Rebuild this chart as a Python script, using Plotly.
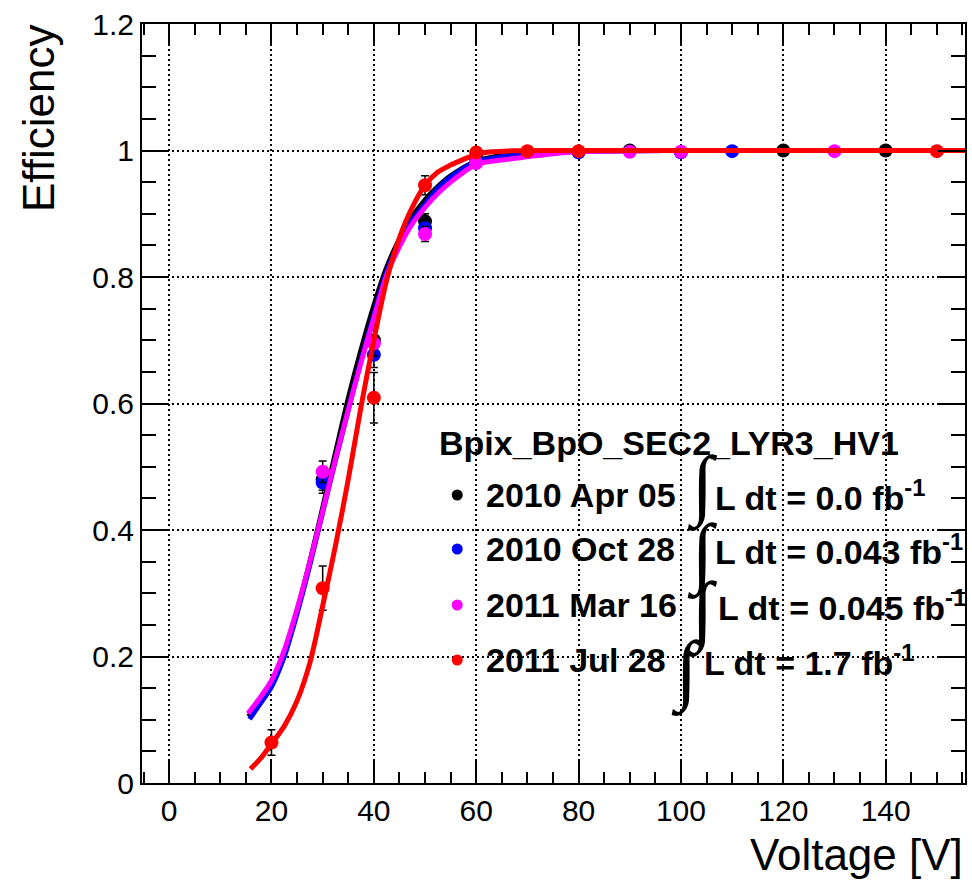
import plotly.graph_objects as go

# ---- measured points (voltage [V], efficiency, error) ----
blk_v = [30, 40, 50, 60, 90, 120, 140]
blk_e = [0.480, 0.700, 0.888, 0.990, 1.000, 1.000, 1.000]
blk_err = [0.017, 0.020, 0.012, 0.004, 0.002, 0.002, 0.002]

blu_v = [30, 40, 50, 60, 80, 100, 110]
blu_e = [0.475, 0.677, 0.877, 0.985, 0.997, 0.997, 0.999]
blu_err = [0.017, 0.020, 0.012, 0.004, 0.002, 0.002, 0.002]

mag_v = [30, 40, 50, 60, 90, 100, 130]
mag_e = [0.492, 0.695, 0.868, 0.980, 0.998, 0.998, 0.999]
mag_err = [0.017, 0.020, 0.012, 0.004, 0.002, 0.002, 0.002]

red_v = [20, 30, 40, 50, 60, 70, 80, 150]
red_e = [0.064, 0.308, 0.609, 0.945, 0.997, 0.999, 0.999, 0.999]
red_err = [0.020, 0.035, 0.040, 0.015, 0.004, 0.002, 0.002, 0.002]

# ---- fitted turn-on curves ----
blk_fit_v = [15.5, 17.5, 20, 22.5, 25, 27.5, 30, 32.5, 35, 37.5, 40, 42.5, 45, 47.5, 50,
             52.5, 55, 60, 65, 70, 80, 100, 130, 156]
blk_fit_e = [0.105, 0.127, 0.157, 0.205, 0.272, 0.350, 0.435, 0.522, 0.608, 0.685, 0.755,
             0.815, 0.860, 0.895, 0.922, 0.943, 0.960, 0.983, 0.992, 0.996, 0.999, 1.0, 1.0, 1.0]

blu_fit_v = [15.7, 17.5, 20, 22.5, 25, 27.5, 30, 32.5, 35, 37.5, 40, 42.5, 45, 47.5, 50,
             52.5, 55, 60, 65, 70, 75, 80, 100, 130, 156]
blu_fit_e = [0.101, 0.122, 0.152, 0.200, 0.268, 0.345, 0.428, 0.510, 0.590, 0.668, 0.740,
             0.808, 0.855, 0.890, 0.915, 0.940, 0.958, 0.982, 0.990, 0.994, 0.997, 0.999,
             1.0, 1.0, 1.0]

mag_fit_v = [15.4, 17.5, 20, 22.5, 25, 27.5, 30, 32.5, 35, 37.5, 40, 42.5, 45, 47.5, 50,
             52.5, 55, 60, 65, 70, 75, 80, 100, 130, 156]
mag_fit_e = [0.110, 0.132, 0.162, 0.210, 0.275, 0.350, 0.430, 0.512, 0.590, 0.665, 0.735,
             0.803, 0.848, 0.884, 0.910, 0.932, 0.950, 0.978, 0.985, 0.990, 0.995, 0.998,
             1.0, 1.0, 1.0]

red_fit_v = [15.9, 18, 20, 22.5, 25, 27.5, 30, 32.5, 35, 37.5, 40, 42.5, 45, 47.5, 50,
             52.5, 55, 57.5, 60, 63, 67, 75, 90, 120, 156]
red_fit_e = [0.022, 0.040, 0.062, 0.090, 0.130, 0.190, 0.280, 0.375, 0.480, 0.595, 0.700,
             0.795, 0.862, 0.910, 0.945, 0.966, 0.977, 0.986, 0.994, 0.998, 0.9995, 1.0,
             1.0, 1.0, 1.0]

# ---- legend entries ----
title_txt = "Bpix_BpO_SEC2_LYR3_HV1"
dates = ["2010 Apr 05", "2010 Oct 28", "2011 Mar 16", "2011 Jul 28"]
lumis = ["0.0", "0.043", "0.045", "1.7"]
colors = ["#000000", "#0000ff", "#ff00ff", "#ff0000"]

FONT = "Liberation Sans, Arial, Helvetica, sans-serif"
INT_FONT = "Liberation Serif, DejaVu Serif, serif"

fig = go.Figure()

series = [
    (blk_v, blk_e, blk_err, blk_fit_v, blk_fit_e),
    (blu_v, blu_e, blu_err, blu_fit_v, blu_fit_e),
    (mag_v, mag_e, mag_err, mag_fit_v, mag_fit_e),
    (red_v, red_e, red_err, red_fit_v, red_fit_e),
]

for (pv, pe, perr, fv, fe), col in zip(series, colors):
    fig.add_trace(go.Scatter(
        x=pv, y=pe, mode="markers",
        marker=dict(color=col, size=14, line=dict(width=0)),
        error_y=dict(type="data", array=perr, visible=True, color="black",
                     thickness=1.5, width=4),
        showlegend=False, cliponaxis=True,
    ))
    fig.add_trace(go.Scatter(
        x=fv, y=fe, mode="lines",
        line=dict(color=col, width=5, shape="spline", smoothing=0.8),
        showlegend=False, cliponaxis=True,
    ))

# plot frame geometry (pixels) used to place the text box
L, R, T, B = 142, 967, 24, 783
W, H = R - L, B - T


def px(xp):
    return (xp - L) / W


def py(yp):
    return (B - yp) / H


annotations = []
shapes = []

annotations.append(dict(
    x=px(438), y=py(443), xref="paper", yref="paper", xanchor="left", yanchor="middle",
    text="<b>" + title_txt + "</b>", showarrow=False,
    font=dict(family=FONT, size=34, color="black"),
))

row_y = [495, 549, 605, 660]
int_x = [704, 704, 704, 688]
int_y = [485, 553, 611, 670]
lumi_x = [714, 714, 717, 703]

for i in range(4):
    shapes.append(dict(
        type="circle", xref="paper", yref="paper",
        xsizemode="pixel", ysizemode="pixel",
        xanchor=px(458), yanchor=py(row_y[i]),
        x0=-5.5, x1=5.5, y0=-5.5, y1=5.5,
        fillcolor=colors[i], line=dict(width=0),
    ))
    annotations.append(dict(
        x=px(485), y=py(row_y[i]), xref="paper", yref="paper",
        xanchor="left", yanchor="middle",
        text="<b>" + dates[i] + "</b>", showarrow=False,
        font=dict(family=FONT, size=34, color="black"),
    ))
    annotations.append(dict(
        x=px(int_x[i]), y=py(int_y[i]), xref="paper", yref="paper",
        xanchor="center", yanchor="middle",
        text="∫", showarrow=False,
        font=dict(family=INT_FONT, size=78, color="black"),
    ))
    annotations.append(dict(
        x=px(lumi_x[i]), y=py(row_y[i]), xref="paper", yref="paper",
        xanchor="left", yanchor="middle",
        text="<b>L dt = " + lumis[i] + " fb<sup>-1</sup></b>", showarrow=False,
        font=dict(family=FONT, size=34, color="black"),
    ))

# axis titles
annotations.append(dict(
    x=px(38), y=1.003, xref="paper", yref="paper", xanchor="center", yanchor="top",
    text="Efficiency", textangle=-90, showarrow=False,
    font=dict(family=FONT, size=44, color="black"),
))
annotations.append(dict(
    x=1.0, y=py(855), xref="paper", yref="paper", xanchor="right", yanchor="middle",
    text="Voltage [V]", showarrow=False,
    font=dict(family=FONT, size=44, color="black"),
))

axis_common = dict(
    showline=True, linewidth=2, linecolor="black", mirror="ticks",
    ticks="inside", tickcolor="black", tickwidth=1.5,
    showgrid=True, gridcolor="black", gridwidth=1.5, griddash="1.5px,3.5px",
    zeroline=False,
    tickfont=dict(family=FONT, size=30, color="black"),
)

fig.update_xaxes(
    range=[-5.3, 155.5], tick0=0, dtick=20, ticklen=22,
    minor=dict(ticks="inside", ticklen=11, dtick=5, tick0=0, tickcolor="black",
               tickwidth=1.5, showgrid=False),
    **axis_common,
)
fig.update_yaxes(
    range=[0, 1.2], tick0=0, dtick=0.2, ticklen=27,
    minor=dict(ticks="inside", ticklen=14, dtick=0.05, tick0=0, tickcolor="black",
               tickwidth=1.5, showgrid=False),
    **axis_common,
)

fig.update_layout(
    width=972, height=881,
    margin=dict(l=L, r=972 - R, t=T, b=881 - B),
    paper_bgcolor="white", plot_bgcolor="white",
    showlegend=False,
    annotations=annotations, shapes=shapes,
    font=dict(family=FONT, color="black"),
)

fig.write_html("out.html")
